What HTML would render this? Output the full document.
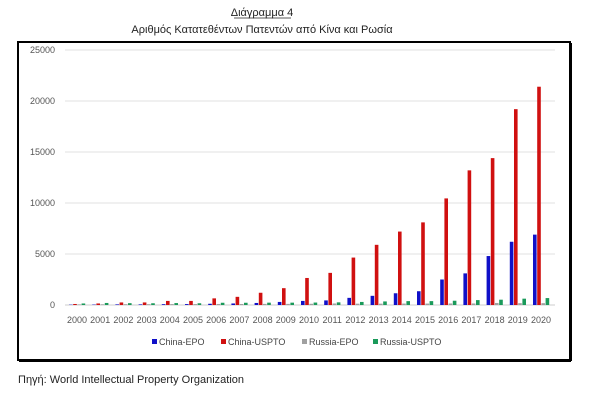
<!DOCTYPE html>
<html><head><meta charset="utf-8"><style>
body{margin:0;background:#fff;width:600px;height:401px;overflow:hidden;font-family:"Liberation Sans",sans-serif}
</style></head><body>
<svg width="600" height="401" xmlns="http://www.w3.org/2000/svg" font-family="Liberation Sans, sans-serif">
<text x="262" y="16" font-size="11" text-anchor="middle" fill="#222">Διάγραμμα 4</text>
<line x1="234" y1="18" x2="291" y2="18" stroke="#222" stroke-width="0.8"/>
<text x="262" y="33" font-size="11" text-anchor="middle" fill="#222">Αριθμός Κατατεθέντων Πατεντών από Κίνα και Ρωσία</text>
<rect x="18" y="42" width="552" height="318" fill="#fff" stroke="#000" stroke-width="2"/>
<line x1="571" y1="43" x2="571" y2="361" stroke="#000" stroke-width="2"/>
<line x1="19" y1="361" x2="571" y2="361" stroke="#000" stroke-width="2"/>
<g id="grid"></g><g id="bars"></g><g id="xl"></g>
<g font-size="9" fill="#444">
<rect x="152" y="339" width="5" height="5" fill="#1010c8"/><text x="159" y="345">China-EPO</text>
<rect x="221" y="339" width="5" height="5" fill="#d01010"/><text x="228" y="345">China-USPTO</text>
<rect x="302" y="339" width="5" height="5" fill="#a0a0a0"/><text x="309" y="345">Russia-EPO</text>
<rect x="373" y="339" width="5" height="5" fill="#1a9a5a"/><text x="380" y="345">Russia-USPTO</text>
</g>
<text x="18" y="383" font-size="11" fill="#222">Πηγή: World Intellectual Property Organization</text>
</svg>
<script>
const years=["2000","2001","2002","2003","2004","2005","2006","2007","2008","2009","2010","2011","2012","2013","2014","2015","2016","2017","2018","2019","2020"];
const chinaEPO=[30,40,60,60,80,90,120,150,200,300,400,450,700,900,1150,1350,2500,3100,4800,6200,6900];
const chinaUSPTO=[100,150,250,250,400,400,650,800,1200,1650,2650,3150,4650,5900,7200,8100,10450,13200,14400,19200,21400];
const russiaEPO=[60,70,80,80,90,90,100,100,110,110,120,150,130,130,140,140,150,150,200,180,180];
const russiaUSPTO=[150,200,180,170,190,170,220,220,230,230,240,260,300,350,380,380,420,480,520,620,680];
const yTicks=[0,5000,10000,15000,20000,25000];
const NS="http://www.w3.org/2000/svg";
const y=v=>305-v*255/25000;
const x=i=>77+i*23.2;
const g=document.getElementById('grid');
yTicks.forEach(t=>{
 const l=document.createElementNS(NS,'line');
 
 
 l.setAttribute('x1',65);l.setAttribute('x2',555);l.setAttribute('y1',y(t));l.setAttribute('y2',y(t));
 l.setAttribute('stroke',t===0?'#ccc':'#e2e2e2');l.setAttribute('stroke-width',1);g.appendChild(l);
 const tx=document.createElementNS(NS,'text');
 
 
 tx.setAttribute('x',55);tx.setAttribute('y',y(t)+3);tx.setAttribute('text-anchor','end');
 tx.setAttribute('font-size',9);tx.setAttribute('fill','#555');tx.textContent=t;g.appendChild(tx);
});
const series=[[chinaEPO,'#1010c8','china-epo'],[chinaUSPTO,'#d01010','china-uspto'],[russiaEPO,'#a0a0a0','russia-epo'],[russiaUSPTO,'#1a9a5a','russia-uspto']];
const b=document.getElementById('bars');
years.forEach((yr,i)=>{
 series.forEach((s,k)=>{
  const r=document.createElementNS(NS,'rect');
  
  
  const v=s[0][i];
  r.setAttribute('x',x(i)-8+k*4.2);r.setAttribute('width',3.6);
  r.setAttribute('y',y(v));r.setAttribute('height',305-y(v));r.setAttribute('fill',s[1]);b.appendChild(r);
 });
 const tx=document.createElementNS(NS,'text');
 
 
 tx.setAttribute('x',x(i));tx.setAttribute('y',323);tx.setAttribute('text-anchor','middle');
 tx.setAttribute('font-size',9);tx.setAttribute('fill','#555');tx.textContent=yr;
 document.getElementById('xl').appendChild(tx);
});
</script>
</body></html>
